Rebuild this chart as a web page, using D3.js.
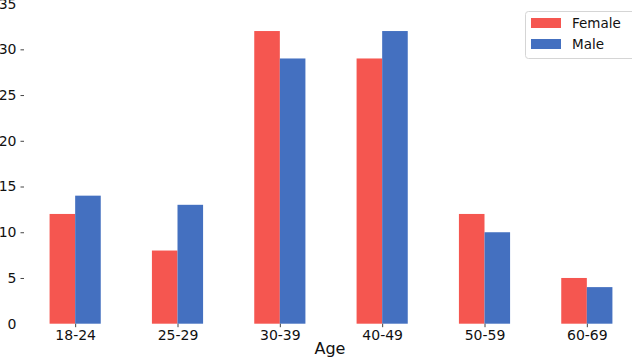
<!DOCTYPE html>
<html><head><meta charset="utf-8">
<script src="https://cdn.jsdelivr.net/npm/d3@7"></script>
<style>body{margin:0;background:#fff}svg{display:block}text{font-family:"DejaVu Sans",sans-serif}</style>
</head><body><svg id="c" width="632" height="358"></svg>
<script>
const categories = ["18-24","25-29","30-39","40-49","50-59","60-69"];
const female = [12, 8, 32, 29, 12, 5];
const male = [14, 13, 29, 32, 10, 4];
const yTicks = [0,5,10,15,20,25,30,35];
const seriesNames = ["Female","Male"];
const colors = ["#f55650","#4470c0"];

const svg = d3.select("#c");
const x = d3.scaleLinear().domain([-0.5, 5.5]).range([24, 638]);
const y = d3.scaleLinear().domain([0, 35]).range([323.7, 3.6]);
const step = x(1) - x(0);
const bw = step * 0.25;

const g = svg.append("g");
[female, male].forEach((vals, s) => {
  g.selectAll(null).data(vals).enter().append("rect")
    .attr("x", (d, i) => s === 0 ? x(i) - bw : x(i))
    .attr("y", d => y(d))
    .attr("width", bw)
    .attr("height", d => y(0) - y(d))
    .attr("fill", colors[s]);
});

// y axis
const ya = svg.append("g").attr("transform", "translate(24,0)")
  .call(d3.axisLeft(y).tickValues(yTicks).tickSize(3.5).tickPadding(4));
ya.select(".domain").remove();
ya.selectAll(".tick text").attr("font-size", 14).attr("fill", "#111").attr("font-family", "DejaVu Sans");
ya.selectAll(".tick line").attr("stroke", "#444").attr("opacity", d => (d === 0 || d === 35) ? 0 : 1);

// x axis
const xa = svg.append("g").attr("transform", `translate(0,${y(0)})`)
  .call(d3.axisBottom(x).tickValues(d3.range(categories.length)).tickFormat(i => categories[i]).tickSize(3.5).tickPadding(3));
xa.select(".domain").remove();
xa.selectAll(".tick text").attr("font-size", 14).attr("fill", "#111").attr("font-family", "DejaVu Sans");
xa.selectAll(".tick line").attr("stroke", "#444");

svg.append("text").attr("x", 330).attr("y", 354).attr("text-anchor", "middle")
  .attr("font-size", 16).attr("fill", "#111").text("Age");

// legend
const lg = svg.append("g");
lg.append("rect").attr("x", 525.5).attr("y", 11.5).attr("width", 112).attr("height", 47)
  .attr("rx", 3).attr("fill", "#fff").attr("stroke", "#d5d5d5");
seriesNames.forEach((n, i) => {
  lg.append("rect").attr("x", 531).attr("y", 18 + i * 21).attr("width", 30).attr("height", 10).attr("fill", colors[i]);
  lg.append("text").attr("x", 572).attr("y", 28 + i * 21).attr("font-size", 13.5).attr("fill", "#111").text(n);
});
</script></body></html>
